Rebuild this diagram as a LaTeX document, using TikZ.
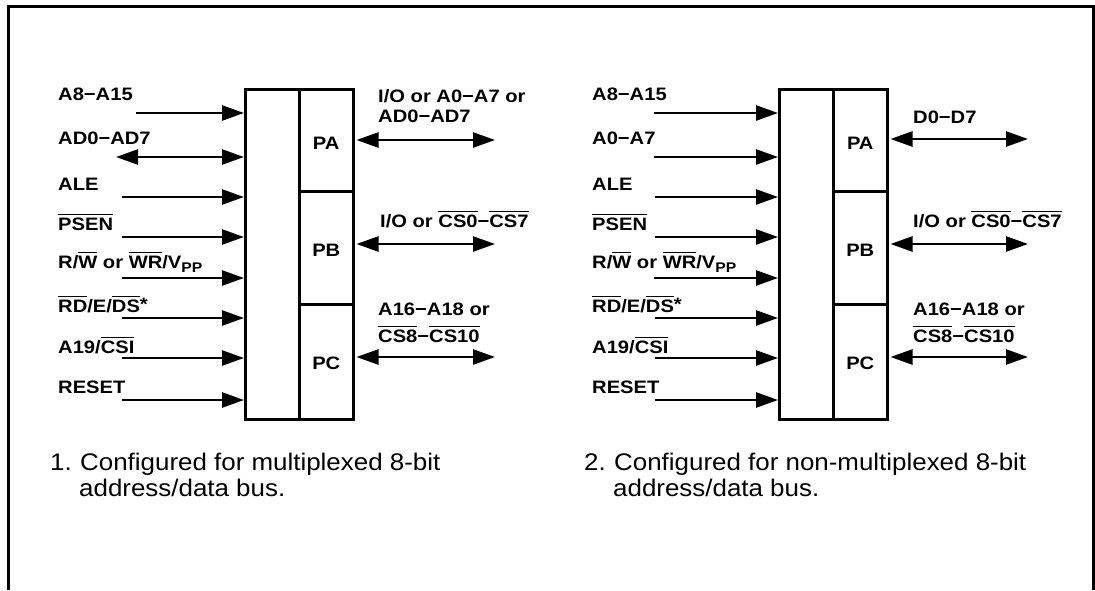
\documentclass[tikz,border=0pt]{standalone}
\usepackage{fontspec}
\setmainfont{Liberation Sans}
\newfontfamily\sigfont{Liberation Sans}[FakeStretch=1.12]
\newfontfamily\capfont{Liberation Sans}[FakeStretch=1.08]
\usetikzlibrary{arrows.meta, positioning}

% overline for active-low signal names
\newcommand{\ovl}[1]{\leavevmode\vbox{\hrule height 1.3pt \kern 2.2pt \hbox{#1}}}
\newcommand{\vpp}{V\raisebox{-4pt}{\fontsize{14}{14}\selectfont PP}}
\newcommand{\sigstar}{\raisebox{2pt}{*}}

\tikzset{
  sig/.style={font=\sigfont\fontsize{18}{20}\selectfont\bfseries, anchor=base west, inner sep=0pt},
  captext/.style={font=\capfont\fontsize{24}{26}\selectfont, anchor=base west, inner sep=0pt},
  blk/.style={draw, line width=2.5pt, anchor=north west, inner sep=0pt},
  portname/.style={font=\sigfont\fontsize{18}{20}\selectfont\bfseries},
  bus/.style={line width=2.5pt, -{Triangle[length=22pt, width=15pt]}},
  bibus/.style={line width=2.5pt, {Triangle[length=22pt, width=15pt]}-{Triangle[length=22pt, width=15pt]}},
}

\begin{document}
\begin{tikzpicture}[x=1pt, y=-1pt]
  \useasboundingbox (0, 0) rectangle (1095, 590);
  \draw[line width=3pt] (8.5, 590) -- (8.5, 6.5) -- (1093.5, 6.5) -- (1093.5, 590);

  % 1. multiplexed
  \node[blk, minimum width=54pt, minimum height=330pt] (core) at (244, 88) {};
  \node[blk, minimum width=54pt, minimum height=102pt] (pa) at (298, 88) {};
  \node[blk, minimum width=54pt, minimum height=113pt] (pb) at (298, 190) {};
  \node[blk, minimum width=54pt, minimum height=115pt] (pc) at (298, 303) {};
  \node[portname] at ([yshift=-3pt]pa) {PA};
  \node[portname] at ([yshift=-3pt]pb) {PB};
  \node[portname] at ([yshift=-2pt]pc) {PC};

  \node[sig] (a8) at (58, 100) {A8−A15};
  \node[sig] (ad) at (58, 144) {AD0−AD7};
  \node[sig] (ale) at (58, 190) {ALE};
  \node[sig] (psen) at (58, 230) {\ovl{PSEN}};
  \node[sig] (rw) at (58, 268) {R/\ovl{W} or \ovl{WR}/\vpp};
  \node[sig] (rd) at (58, 312) {\ovl{RD}/E/\ovl{DS}\sigstar};
  \node[sig] (csi) at (58, 353) {A19/\ovl{CSI}};
  \node[sig] (reset) at (58, 393) {RESET};

  \coordinate (a8-in) at (136, 113);
  \coordinate (ad-in) at (116, 157);
  \coordinate (ale-in) at (122, 197);
  \coordinate (psen-in) at (122, 237);
  \coordinate (rw-in) at (122, 278);
  \coordinate (rd-in) at (122, 318);
  \coordinate (csi-in) at (122, 358);
  \coordinate (reset-in) at (122, 400);
  \draw[bus] (a8-in) -- (a8-in -| core.west);
  \draw[bibus] (ad-in) -- (ad-in -| core.west);
  \draw[bus] (ale-in) -- (ale-in -| core.west);
  \draw[bus] (psen-in) -- (psen-in -| core.west);
  \draw[bus] (rw-in) -- (rw-in -| core.west);
  \draw[bus] (rd-in) -- (rd-in -| core.west);
  \draw[bus] (csi-in) -- (csi-in -| core.west);
  \draw[bus] (reset-in) -- (reset-in -| core.west);

  \node[sig] (pa-t1) at (378, 102) {I/O or A0−A7 or};
  \node[sig] (pa-t2) at (378, 122) {AD0−AD7};
  \node[sig] (pb-t) at (380, 227) {I/O or \ovl{CS0}−\ovl{CS7}};
  \node[sig] (pc-t1) at (378, 315) {A16−A18 or};
  \node[sig] (pc-t2) at (378, 342) {\ovl{CS8}−\ovl{CS10}};
  \coordinate (pa-out) at (495, 140);
  \coordinate (pb-out) at (495, 244);
  \coordinate (pc-out) at (495, 357);
  \draw[bibus, shorten <=2pt] (pa-out -| pa.east) -- (pa-out);
  \draw[bibus, shorten <=2pt] (pb-out -| pb.east) -- (pb-out);
  \draw[bibus, shorten <=2pt] (pc-out -| pc.east) -- (pc-out);

  \node[captext] (n1) at (50, 470) {1.};
  \node[captext] (c1a) at (80, 470) {Configured for multiplexed 8-bit};
  \node[captext] (c1b) at (79, 496) {address/data bus.};

  % 2. non-multiplexed
  \begin{scope}[xshift=534pt]
    \node[blk, minimum width=54pt, minimum height=330pt] (core2) at (244, 88) {};
    \node[blk, minimum width=54pt, minimum height=102pt] (pa2) at (298, 88) {};
    \node[blk, minimum width=54pt, minimum height=113pt] (pb2) at (298, 190) {};
    \node[blk, minimum width=54pt, minimum height=115pt] (pc2) at (298, 303) {};
    \node[portname] at ([yshift=-3pt]pa2) {PA};
    \node[portname] at ([yshift=-3pt]pb2) {PB};
    \node[portname] at ([yshift=-2pt]pc2) {PC};

    \node[sig] (a8b) at (58, 100) {A8−A15};
    \node[sig] (a0b) at (58, 144) {A0−A7};
    \node[sig] (aleb) at (58, 190) {ALE};
    \node[sig] (psenb) at (58, 230) {\ovl{PSEN}};
    \node[sig] (rwb) at (58, 268) {R/\ovl{W} or \ovl{WR}/\vpp};
    \node[sig] (rdb) at (58, 312) {\ovl{RD}/E/\ovl{DS}\sigstar};
    \node[sig] (csib) at (58, 353) {A19/\ovl{CSI}};
    \node[sig] (resetb) at (58, 393) {RESET};

    \coordinate (a8b-in) at (120, 113);
    \coordinate (a0b-in) at (120, 157);
    \coordinate (aleb-in) at (121, 197);
    \coordinate (psenb-in) at (121, 237);
    \coordinate (rwb-in) at (120, 278);
    \coordinate (rdb-in) at (121, 318);
    \coordinate (csib-in) at (121, 358);
    \coordinate (resetb-in) at (121, 400);
    \draw[bus] (a8b-in) -- (a8b-in -| core2.west);
    \draw[bus] (a0b-in) -- (a0b-in -| core2.west);
    \draw[bus] (aleb-in) -- (aleb-in -| core2.west);
    \draw[bus] (psenb-in) -- (psenb-in -| core2.west);
    \draw[bus] (rwb-in) -- (rwb-in -| core2.west);
    \draw[bus] (rdb-in) -- (rdb-in -| core2.west);
    \draw[bus] (csib-in) -- (csib-in -| core2.west);
    \draw[bus] (resetb-in) -- (resetb-in -| core2.west);

    \node[sig] (pa2-t) at (379, 123) {D0−D7};
    \node[sig] (pb2-t) at (379, 227) {I/O or \ovl{CS0}−\ovl{CS7}};
    \node[sig] (pc2-t1) at (379, 315) {A16−A18 or};
    \node[sig] (pc2-t2) at (379, 342) {\ovl{CS8}−\ovl{CS10}};
    \coordinate (pa2-out) at (494, 139);
    \coordinate (pb2-out) at (494, 244);
    \coordinate (pc2-out) at (494, 357);
    \draw[bibus, shorten <=2pt] (pa2-out -| pa2.east) -- (pa2-out);
    \draw[bibus, shorten <=2pt] (pb2-out -| pb2.east) -- (pb2-out);
    \draw[bibus, shorten <=2pt] (pc2-out -| pc2.east) -- (pc2-out);

    \node[captext] (n2) at (50, 470) {2.};
    \node[captext] (c2a) at (80, 470) {Configured for non-multiplexed 8-bit};
    \node[captext] (c2b) at (79, 496) {address/data bus.};
  \end{scope}
\end{tikzpicture}
\end{document}
